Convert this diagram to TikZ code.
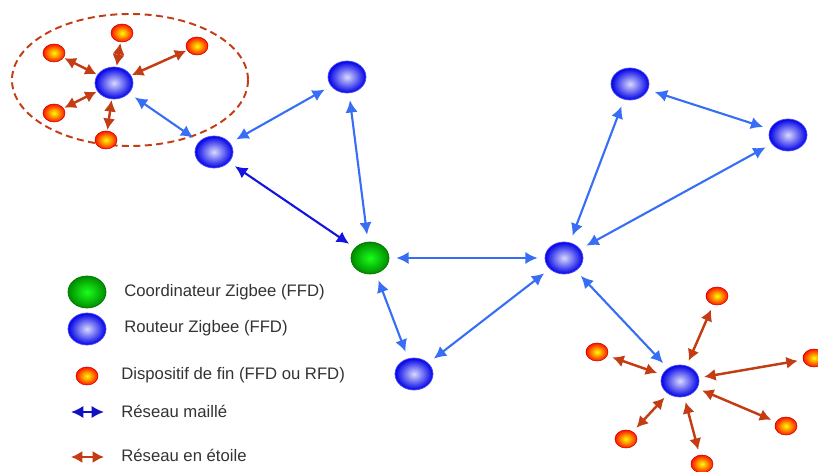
\documentclass[tikz,border=0pt]{standalone}
\usepackage{fontspec}
\setmainfont{Liberation Sans}
\usetikzlibrary{arrows.meta, shapes.geometric}

\definecolor{meshblue}{RGB}{55,110,245}
\definecolor{darkmesh}{RGB}{20,20,225}
\definecolor{starred}{RGB}{195,60,20}

\begin{document}
\begin{tikzpicture}[x=0.02cm, y=-0.02cm]
		\tikzstyle{Router} = [ellipse, minimum width=0.76cm, minimum height=0.64cm, inner sep=0pt, inner color=blue!15, outer color=blue!90!black, draw=blue!70, line width=0.4pt]
		\tikzstyle{Coord} = [ellipse, minimum width=0.76cm, minimum height=0.64cm, inner sep=0pt, inner color=green!90!white, outer color=green!55!black, draw=green!45!black, line width=0.4pt]
		\tikzstyle{End} = [ellipse, minimum width=0.44cm, minimum height=0.36cm, inner sep=0pt, inner color=yellow, outer color=red!85!orange, draw=red!80!black, line width=0.3pt]
		\tikzstyle{Label} = [anchor=west, inner sep=0pt, font=\fontsize{9.5}{11}\selectfont, text=black!80]
		\tikzstyle{mesh} = [line width=1.2pt, meshblue, {Latex[length=7pt,width=7pt]}-{Latex[length=7pt,width=7pt]}, shorten <=4pt, shorten >=4pt]
		\tikzstyle{star} = [line width=1.4pt, starred, {Latex[length=6.5pt,width=7pt]}-{Latex[length=6.5pt,width=7pt]}, shorten <=3pt, shorten >=3pt]
		
		\useasboundingbox (0,0) rectangle (818,472);
		
		\draw [starred, line width=1.1pt, dash pattern=on 4pt off 2.5pt] (130,80) ellipse [x radius=118, y radius=66];
		
		\node (r1) [Router] at (114,83) {};
		\node (e11) [End] at (54,53) {};
		\node (e12) [End] at (122,33) {};
		\node (e13) [End] at (197,46) {};
		\node (e14) [End] at (54,113) {};
		\node (e15) [End] at (106,140) {};
		
		\node (r2) [Router] at (214,152) {};
		\node (r3) [Router] at (347,77) {};
		\node (co) [Coord] at (370,258) {};
		\node (r4) [Router] at (564,258) {};
		\node (r5) [Router] at (630,84) {};
		\node (r6) [Router] at (788,135) {};
		\node (r7) [Router] at (414,374) {};
		
		\node (r8) [Router] at (680,381) {};
		\node (e81) [End] at (717,296) {};
		\node (e82) [End] at (597,352) {};
		\node (e83) [End] at (814,358) {};
		\node (e84) [End] at (786,426) {};
		\node (e85) [End] at (626,439) {};
		\node (e86) [End] at (702,464) {};
		
		\draw [mesh] (r1) -- (r2);
		\draw [mesh] (r2) -- (r3);
		\draw [mesh] (r3) -- (co);
		\draw [mesh, darkmesh] (r2) -- (co);
		\draw [mesh] (co) -- (r4);
		\draw [mesh] (co) -- (r7);
		\draw [mesh] (r7) -- (r4);
		\draw [mesh] (r4) -- (r5);
		\draw [mesh] (r5) -- (r6);
		\draw [mesh] (r6) -- (r4);
		\draw [mesh] (r4) -- (r8);
		
		\foreach \e in {e11,e12,e13,e14,e15}
			\draw [star, shorten <=0.5pt, shorten >=0.5pt] (r1) -- (\e);
		\foreach \e in {e81,e82,e83,e84,e85,e86}
			\draw [star] (r8) -- (\e);
		
		\node (lco) [Coord] at (87,292) {};
		\node (lr) [Router] at (87,329) {};
		\node (le) [End] at (87,376) {};
		\coordinate (lma) at (71,412);
		\coordinate (lmb) at (104,412);
		\coordinate (lsa) at (71,457);
		\coordinate (lsb) at (104,457);
		\draw [mesh, darkmesh!85!black, shorten <=0pt, shorten >=0pt] (lma) -- (lmb);
		\draw [star, shorten <=0pt, shorten >=0pt] (lsa) -- (lsb);
		
		\node (tco) [Label] at (124,292) {Coordinateur Zigbee (FFD)};
		\node (tr) [Label] at (124,328) {Routeur Zigbee (FFD)};
		\node (te) [Label] at (121,375) {Dispositif de fin (FFD ou RFD)};
		\node (tm) [Label] at (121,411) {Réseau maillé};
		\node (ts) [Label] at (121,455) {Réseau en étoile};
\end{tikzpicture}
\end{document}
